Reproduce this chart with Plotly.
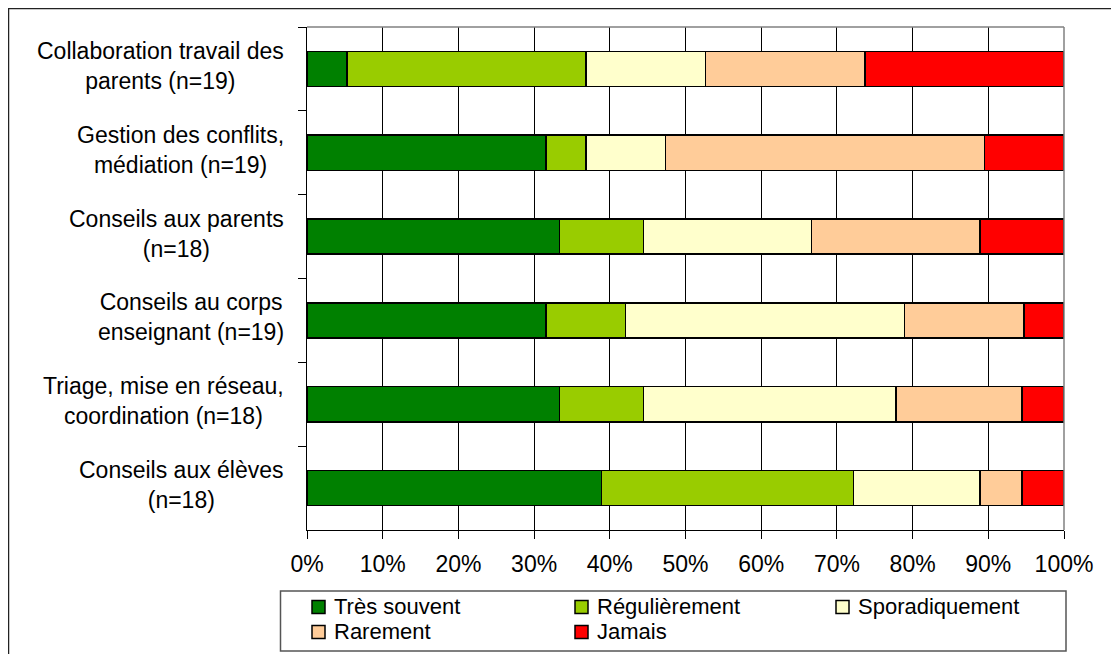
import plotly.graph_objects as go

# categories, top to bottom
categories = [
    "Collaboration travail des<br>parents (n=19)",
    "Gestion des conflits,<br>médiation (n=19)",
    "Conseils aux parents<br>(n=18)",
    "Conseils au corps<br>enseignant (n=19)",
    "Triage, mise en réseau,<br>coordination (n=18)",
    "Conseils aux élèves<br>(n=18)",
]

# number of answers per category (normalised to % by the chart)
tres_souvent = [1, 6, 6, 6, 6, 7]
regulierement = [6, 1, 2, 2, 2, 6]
sporadiquement = [3, 2, 4, 7, 6, 3]
rarement = [4, 8, 4, 3, 3, 1]
jamais = [5, 2, 2, 1, 1, 1]

series = [
    ("Très souvent", tres_souvent, "#008000"),
    ("Régulièrement", regulierement, "#99CC00"),
    ("Sporadiquement", sporadiquement, "#FFFFCC"),
    ("Rarement", rarement, "#FFCC99"),
    ("Jamais", jamais, "#FF0000"),
]

FONT = "Liberation Sans, Arial, sans-serif"

# page is offset by the 8px body margin, so the figure is 8px smaller
W, H = 1111, 646
L, R, T, B = 299, 55, 19, 124
PW, PH = W - L - R, H - T - B


def px(x):  # page x -> paper x
    return (x - 8 - L) / PW


def py(y):  # page y -> paper y
    return (H - B - (y - 8)) / PH


fig = go.Figure()
for name, vals, col in series:
    fig.add_trace(go.Bar(
        y=categories,
        x=vals,
        name=name,
        orientation="h",
        showlegend=False,
        marker=dict(color=col, line=dict(color="black", width=1.5)),
    ))

# category labels as centred two-line annotations
for cat in categories:
    fig.add_annotation(
        x=px(286), y=cat, xref="paper", yref="y",
        text=cat, showarrow=False, yshift=3,
        xanchor="right", align="center",
        font=dict(family=FONT, size=23, color="black"),
    )

# outer frame of the picture
fig.add_shape(type="rect", xref="paper", yref="paper",
              x0=px(8.5), x1=px(1140), y0=py(680), y1=py(8.5),
              line=dict(color="#222222", width=1.5), layer="below")
# grey top / right border of plot area
fig.add_shape(type="line", xref="paper", yref="paper",
              x0=0, x1=1, y0=1, y1=1, line=dict(color="#808080", width=1.5))
fig.add_shape(type="line", xref="paper", yref="paper",
              x0=1, x1=1, y0=0, y1=1, line=dict(color="#808080", width=1.5))

# legend box drawn by hand (3 columns, 2 rows)
fig.add_shape(type="rect", xref="paper", yref="paper",
              x0=px(280.5), x1=px(1066), y0=py(651), y1=py(591),
              line=dict(color="#555555", width=1.5), fillcolor="white")
col_x = [312, 575, 836]
row_y = [607, 632]
for i, (name, vals, col) in enumerate(series):
    cx = col_x[i % 3]
    cy = row_y[i // 3]
    fig.add_shape(type="rect", xref="paper", yref="paper",
                  x0=px(cx), x1=px(cx + 13), y0=py(cy + 6.5), y1=py(cy - 6.5),
                  line=dict(color="black", width=1.5), fillcolor=col)
    fig.add_annotation(
        x=px(cx + 20), y=py(cy - 1), xref="paper", yref="paper",
        text=name, showarrow=False, xanchor="left", yanchor="middle",
        font=dict(family=FONT, size=22, color="black"),
    )

fig.update_layout(
    barmode="stack",
    barnorm="percent",
    bargap=0.58,
    width=W,
    height=H,
    margin=dict(l=L, r=R, t=T, b=B),
    paper_bgcolor="white",
    plot_bgcolor="white",
    showlegend=False,
    font=dict(family=FONT, size=23, color="black"),
    xaxis=dict(
        range=[0, 100], dtick=10, ticksuffix="%",
        showgrid=True, gridcolor="black", gridwidth=1,
        showline=True, linecolor="black", linewidth=1,
        ticks="outside", ticklen=8, tickcolor="black",
        ticklabelstandoff=5, zeroline=False,
        tickfont=dict(size=23),
    ),
    yaxis=dict(
        autorange="reversed",
        showticklabels=False,
        showline=True, linecolor="black", linewidth=1,
        ticks="outside", ticklen=8, tickcolor="black",
        tickson="boundaries", showgrid=False,
    ),
)

fig.write_html("out.html")
